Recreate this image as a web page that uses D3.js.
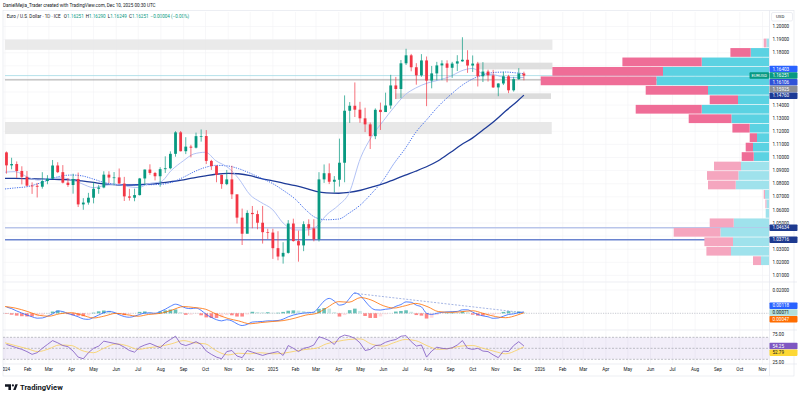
<!DOCTYPE html>
<html>
<head>
<meta charset="utf-8">
<script src="https://cdn.jsdelivr.net/npm/d3@7"></script>
<style>
  html, body { margin: 0; padding: 0; background: #fff; }
  svg { display: block; font-family: Roboto, "Liberation Sans", sans-serif; }
</style>
</head>
<body>
<script>
'use strict';

// ---- weekly candles (EUR/USD, 1D chart read back as weekly bars) ----
const candleStart = new Date(2024, 0, 3);
const firstOpen = 1.1039;
const wkHigh = [1.1046,1.0998,1.0970,1.0933,1.0897,1.0810,1.0806,1.0888,1.0865,1.0981,
  1.0964,1.0942,1.0843,1.0876,1.0885,1.0690,1.0730,1.0812,1.0791,1.0895,
  1.0895,1.0889,1.0916,1.0852,1.0761,1.0762,1.0844,1.0908,1.0948,1.0890,
  1.0926,1.1009,1.1047,1.1201,1.1202,1.1155,1.1097,1.1190,1.1214,1.1209,
  1.0982,1.0942,1.0869,1.0905,1.0937,1.0716,1.0610,1.0597,1.0630,1.0595,
  1.0630,1.0456,1.0456,1.0437,1.0353,1.0522,1.0533,1.0442,1.0513,1.0528,
  1.0529,1.0888,1.0947,1.0955,1.0858,1.1144,1.1474,1.1423,1.1573,1.1425,
  1.1380,1.1267,1.1375,1.1419,1.1495,1.1631,1.1615,1.1744,1.1830,1.1791,
  1.1720,1.1789,1.1771,1.1699,1.1730,1.1742,1.1742,1.1730,1.1781,1.1918,
  1.1819,1.1779,1.1730,1.1728,1.1670,1.1669,1.1567,1.1655,1.1631,1.1616,
  1.1682,1.1655];
const wkLow = [1.0877,1.0910,1.0844,1.0795,1.0780,1.0722,1.0695,1.0762,1.0796,1.0835,
  1.0881,1.0802,1.0776,1.0724,1.0622,1.0601,1.0640,1.0650,1.0723,1.0765,
  1.0805,1.0788,1.0800,1.0668,1.0671,1.0666,1.0710,1.0791,1.0868,1.0825,
  1.0777,1.0882,1.0910,1.1006,1.1046,1.1026,1.1001,1.1069,1.1121,1.0950,
  1.0905,1.0811,1.0761,1.0789,1.0683,1.0496,1.0332,1.0425,1.0460,1.0452,
  1.0343,1.0378,1.0226,1.0215,1.0190,1.0266,1.0358,1.0205,1.0285,1.0403,
  1.0360,1.0359,1.0806,1.0797,1.0733,1.0778,1.0811,1.1264,1.1309,1.1265,
  1.1194,1.1065,1.1140,1.1210,1.1357,1.1372,1.1446,1.1453,1.1706,1.1658,
  1.1556,1.1616,1.1392,1.1528,1.1589,1.1590,1.1574,1.1608,1.1660,1.1731,
  1.1646,1.1653,1.1542,1.1576,1.1580,1.1531,1.1468,1.1553,1.1491,1.1503,
  1.1592,1.1589];
const wkClose = [1.0940,1.0950,1.0897,1.0852,1.0785,1.0784,1.0777,1.0820,1.0838,1.0939,
  1.0888,1.0808,1.0790,1.0836,1.0642,1.0656,1.0693,1.0761,1.0771,1.0869,
  1.0847,1.0848,1.0801,1.0703,1.0693,1.0713,1.0840,1.0908,1.0882,1.0857,
  1.0911,1.0918,1.1028,1.1192,1.1048,1.1083,1.1075,1.1163,1.1164,1.0974,
  1.0935,1.0867,1.0797,1.0833,1.0719,1.0541,1.0418,1.0577,1.0568,1.0502,
  1.0430,1.0427,1.0308,1.0244,1.0272,1.0496,1.0362,1.0329,1.0491,1.0459,
  1.0375,1.0833,1.0880,1.0815,1.0830,1.0960,1.1357,1.1395,1.1365,1.1299,
  1.1253,1.1163,1.1364,1.1347,1.1397,1.1550,1.1523,1.1719,1.1780,1.1689,
  1.1627,1.1741,1.1587,1.1642,1.1703,1.1718,1.1685,1.1717,1.1734,1.1746,
  1.1702,1.1717,1.1620,1.1656,1.1627,1.1535,1.1565,1.1620,1.1513,1.1598,
  1.1641,1.16251];

// ---- moving averages, read every half month ----
const ma20 = [1.0888,1.0892,1.0850,1.0828,1.0840,1.0845,1.0830,1.0800,1.0770,1.0785,1.0795,1.0780,
  1.0770,1.0800,1.0815,1.0900,1.0976,1.1027,1.1040,1.0976,1.0922,1.0841,1.0714,1.0660,
  1.0600,1.0500,1.0447,1.0447,1.0470,1.0560,1.0637,1.0727,1.1000,1.1150,1.1280,1.1380,
  1.1480,1.1530,1.1570,1.1590,1.1620,1.1660,1.1680,1.1640,1.1630,1.1610,1.1610,1.16106];
const ma100 = [1.0760,1.0768,1.0778,1.0800,1.0830,1.0855,1.0866,1.0860,1.0835,1.0810,1.0795,1.0790,
  1.0790,1.0792,1.0795,1.0810,1.0850,1.0890,1.0925,1.0940,1.0935,1.0915,1.0880,1.0845,
  1.0800,1.0750,1.0680,1.0600,1.0540,1.0525,1.0530,1.0575,1.0640,1.0720,1.0830,1.0950,
  1.1070,1.1190,1.1300,1.1390,1.1480,1.1545,1.1600,1.1630,1.1650,1.1652,1.1645,1.16403];
const ma200 = [1.0840,1.0840,1.0838,1.0836,1.0834,1.0832,1.0830,1.0822,1.0810,1.0798,1.0792,1.0790,
  1.0792,1.0796,1.0806,1.0816,1.0830,1.0845,1.0860,1.0872,1.0879,1.0876,1.0862,1.0840,
  1.0822,1.0805,1.0785,1.0765,1.0742,1.0730,1.0727,1.0733,1.0750,1.0772,1.0800,1.0830,
  1.0865,1.0895,1.0935,1.0975,1.1040,1.1095,1.1150,1.1210,1.1285,1.1355,1.1430,1.14760];

// ---- drawn levels ----
const zoneTop = [1.1900, 1.1724, 1.1490, 1.1271];
const zoneBottom = [1.1822, 1.1673, 1.1447, 1.1179];
const zoneStart = ['2024-01-01', '2025-10-07', '2025-06-17', '2024-01-01'];
const zoneEnd = ['2026-01-18', '2026-01-18', '2026-01-16', '2026-01-17'];
const zoneFill = ['#e6e6e6', '#d9d9d9', '#d6d6d6', '#e4e4e4'];
const levelValues = [1.16251, 1.15925, 1.04634, 1.03716];

// ---- volume profile (24 rows) ----
const vpEdges = [1.19099,1.18376,1.17654,1.16931,1.16209,1.15486,1.14764,1.14041,1.13319,1.12596,
  1.11874,1.11151,1.10429,1.09706,1.08984,1.08261,1.07539,1.06816,1.06094,1.05371,
  1.04649,1.03926,1.03204,1.02481,1.01758];
const vpUp = [2.6,18.3,67.3,106,112.6,61,31,67.3,37.6,19.3,12,16,15.3,28,30.6,33.3,4,2.6,3.3,35.3,48.6,36,38,8];
const vpDown = [2.7,20.3,79.3,110.6,115.7,62.3,28.3,66,42.7,17.3,7.3,7.3,12,27,31.4,27.7,1.3,1,0,24,46.7,28.6,24.6,8];
const vpValueArea = [0,1,1,1,1,1,1,1,1,1,1,1,1,0,0,0,0,0,0,0,0,0,0,0];

// ---- MACD (weekly) ----
const macdLine = [0.0054,0.0040,0.0020,0.0002,-0.0015,-0.0030,-0.0042,-0.0040,-0.0025,-0.0005,
  0.0020,0.0015,-0.0002,-0.0015,-0.0030,-0.0048,-0.0052,-0.0035,-0.0015,0.0005,
  0.0016,0.0008,-0.0012,-0.0028,-0.0034,-0.0025,-0.0010,0.0002,0.0003,0.0000,
  0.0015,0.0035,0.0060,0.0078,0.0065,0.0045,0.0040,0.0045,0.0025,-0.0010,
  -0.0035,-0.0055,-0.0065,-0.0055,-0.0065,-0.0090,-0.0105,-0.0095,-0.0075,-0.0072,
  -0.0070,-0.0065,-0.0065,-0.0062,-0.0050,-0.0030,-0.0015,-0.0005,0.0002,0.0005,
  0.0010,0.0055,0.0105,0.0128,0.0105,0.0070,0.0080,0.0130,0.0175,0.0155,
  0.0105,0.0055,0.0030,0.0028,0.0035,0.0040,0.0060,0.0075,0.0098,0.0095,
  0.0070,0.0055,0.0000,-0.0010,0.0000,0.0008,0.0012,0.0014,0.0016,0.0030,
  0.0030,0.0010,-0.0010,-0.0022,-0.0030,-0.0043,-0.0040,-0.0025,-0.0010,-0.0005,
  0.0006,0.00118];
const macdHist = [-0.0004,-0.0012,-0.0020,-0.0025,-0.0027,-0.0027,-0.0026,-0.0018,0.0001,0.0015,
  0.0024,0.0013,-0.0007,-0.0017,-0.0020,-0.0025,-0.0019,0.0005,0.0017,0.0024,
  0.0022,0.0008,-0.0007,-0.0016,-0.0012,0.0000,0.0012,0.0016,0.0011,0.0003,
  0.0015,0.0025,0.0032,0.0033,0.0010,-0.0013,-0.0012,-0.0003,-0.0017,-0.0035,
  -0.0040,-0.0040,-0.0034,-0.0015,-0.0017,-0.0028,-0.0028,-0.0010,0.0013,0.0011,
  0.0009,0.0009,0.0005,0.0005,0.0012,0.0022,0.0025,0.0023,0.0019,0.0014,
  0.0012,0.0038,0.0045,0.0040,0.0010,-0.0028,-0.0015,0.0027,0.0040,0.0020,
  -0.0023,-0.0040,-0.0040,-0.0027,-0.0008,0.0000,0.0015,0.0020,0.0026,0.0013,
  -0.0015,-0.0020,-0.0045,-0.0038,-0.0015,-0.0002,0.0004,0.0006,0.0005,0.0014,
  0.0009,-0.0012,-0.0020,-0.0020,-0.0018,-0.0017,-0.0006,0.0012,0.0019,0.0015,
  0.0016,0.00071];
const macdSignal = [0.0058,0.0045,0.0015,-0.0015,-0.0025,-0.0005,0.0005,-0.0015,-0.0040,-0.0025,0.0000,-0.0012,
  -0.0025,-0.0010,0.0000,0.0025,0.0058,0.0050,0.0035,-0.0005,-0.0045,-0.0065,-0.0090,-0.0080,
  -0.0070,-0.0063,-0.0040,-0.0015,-0.0002,0.0045,0.0100,0.0095,0.0135,0.0115,0.0065,0.0045,
  0.0065,0.0085,0.0055,0.0015,0.0008,0.0013,0.0022,0.0000,-0.0028,-0.0038,-0.0015,0.00047];
const macdTrend = [['2025-04-22', 0.0172], ['2025-12-10', 0.0005]];

// ---- RSI (weekly) and its average (half month) ----
const rsiLine = [57,54,51,48,44,39,42,50,57,64,
  60,55,53,45,34,31,42,50,54,63,
  61,59,57,52,46,43,52,56,59,55,
  51,60,66,72,58,55,58,62,57,45,
  39,34,31,44,46,36,33,46,43,40,
  37,40,42,44,37,55,50,44,50,52,
  56,71,68,64,57,70,74,72,68,60,
  46,48,55,56,61,64,66,72,73,62,
  54,56,34,45,52,50,49,51,56,64,
  50,48,50,45,44,38,33,45,44,55,
  62,54.25];
const rsiAvg = [60,55,49,44,49,56,55,46,42,50,58,55,48,51,54,58,64,60,58,46,38,41,40,42,
  40,41,45,48,50,58,63,66,67,58,54,60,66,64,54,48,50,54,55,50,44,40,47,52.79];

// ---- axis ticks ----
const priceTicks = [1.20,1.19,1.18,1.17,1.16,1.15,1.14,1.13,1.12,1.11,1.10,1.09,1.08,1.07,1.06,1.05,1.04,1.03,1.02,1.01];
const macdTicks = [0.02];
const rsiTicks = [75, 25];

// ---------------------------------------------------------------
const W = 800, H = 399;
const plotL = 3, plotR = 769;
const mainTop = 12, mainBot = 282, macdTop = 282, macdBot = 330, rsiTop = 330, rsiBot = 364;

const svg = d3.select('body').append('svg').attr('width', W).attr('height', H);
const defs = svg.append('defs');
function clip(id, x, y, w, h) {
  defs.append('clipPath').attr('id', id).append('rect').attr('x', x).attr('y', y).attr('width', w).attr('height', h);
}
clip('cMain', plotL, mainTop, plotR - plotL, mainBot - mainTop);
clip('cMacd', plotL, macdTop, plotR - plotL, macdBot - macdTop);
clip('cRsi', plotL, rsiTop, plotR - plotL, rsiBot - rsiTop);
clip('cAxis', plotL, rsiBot, plotR - plotL, 14);

const x = d3.scaleTime().domain([new Date(2024, 0, 1), new Date(2026, 0, 1)]).range([5, 540]);
const y = d3.scaleLinear().domain([1.01, 1.20]).range([275.4, 26.5]);
const yM = d3.scaleLinear().domain([0, 0.02]).range([313.3, 290]);
const yR = d3.scaleLinear().domain([30, 70]).range([359.3, 337.3]);
const vpW = d3.scaleLinear().domain([0, 100]).range([0, 100]);

const parse = d3.timeParse('%Y-%m-%d');
const candles = wkClose.map((c, i) => ({
  date: d3.timeDay.offset(candleStart, 7 * i),
  open: i === 0 ? firstOpen : wkClose[i - 1],
  high: wkHigh[i], low: wkLow[i], close: c
}));
const halfMonths = [];
d3.timeMonth.range(new Date(2024, 0, 1), new Date(2025, 11, 2)).forEach(m => {
  halfMonths.push(m, d3.timeDay.offset(m, 14));
});
halfMonths.pop();
halfMonths.push(new Date(2025, 11, 10));

const monthTicks = d3.timeMonth.range(new Date(2024, 0, 1), new Date(2026, 10, 2));
const fmtMonth = d => d.getMonth() === 0 ? d3.timeFormat('%Y')(d) : d3.timeFormat('%b')(d);

// header
svg.append('text').attr('x', 3).attr('y', 7.3).attr('font-size', 4.6).attr('fill', '#131722')
  .text('DanielMejia_Trader created with TradingView.com, Dec 10, 2025 00:30 UTC');
const hdr = svg.append('text').attr('x', 6.7).attr('y', 17.7).attr('font-size', 4.6).attr('fill', '#131722');
hdr.append('tspan').text('Euro / U.S. Dollar · 1D · ICE ');
[['O', '1.16251'], ['H', '1.16290'], ['L', '1.16249'], ['C', '1.16251']].forEach(p => {
  hdr.append('tspan').attr('dx', 2).text(p[0]);
  hdr.append('tspan').attr('fill', '#089981').text(p[1]);
});
hdr.append('tspan').attr('dx', 2).attr('fill', '#089981').text('−0.00004 (−0.00%)');

// frame & pane separators
const frame = svg.append('g').attr('stroke', '#e0e3eb').attr('stroke-width', 0.6).attr('fill', 'none');
frame.append('rect').attr('x', plotL).attr('y', mainTop - 1.5).attr('width', 794 - plotL).attr('height', 376 - mainTop + 1.5);
[mainBot, macdBot, rsiBot].forEach(v => frame.append('line').attr('x1', plotL).attr('x2', 797).attr('y1', v).attr('y2', v));
frame.append('line').attr('x1', plotR + 0.5).attr('x2', plotR + 0.5).attr('y1', mainTop - 1.5).attr('y2', 376);

// grid
const grid = svg.append('g').attr('stroke', '#f1f2f5').attr('stroke-width', 0.6);
monthTicks.forEach(d => grid.append('line').attr('x1', x(d)).attr('x2', x(d)).attr('y1', mainTop).attr('y2', rsiBot));
priceTicks.forEach(p => grid.append('line').attr('x1', plotL).attr('x2', plotR).attr('y1', y(p)).attr('y2', y(p)));
macdTicks.forEach(p => grid.append('line').attr('x1', plotL).attr('x2', plotR).attr('y1', yM(p)).attr('y2', yM(p)));

// ---------- main pane ----------
const main = svg.append('g').attr('clip-path', 'url(#cMain)');

zoneTop.forEach((t, i) => {
  main.append('rect')
    .attr('x', x(parse(zoneStart[i]))).attr('width', x(parse(zoneEnd[i])) - x(parse(zoneStart[i])))
    .attr('y', y(t)).attr('height', y(zoneBottom[i]) - y(t))
    .attr('fill', zoneFill[i]).attr('opacity', 0.85);
});

const levelStyle = [
  { c: '#9fd8e3', w: 0.8 }, { c: '#9e9e9e', w: 0.9 }, { c: '#b9c5ea', w: 1.6 }, { c: '#6a83cf', w: 1.4 }
];
levelValues.forEach((v, i) => {
  main.append('line').attr('x1', x(new Date(2024, 0, 1))).attr('x2', plotR)
    .attr('y1', y(v)).attr('y2', y(v))
    .attr('stroke', levelStyle[i].c).attr('stroke-width', levelStyle[i].w);
});

const maLine = arr => d3.line().x((d, i) => x(halfMonths[i])).y(d => y(d)).curve(d3.curveMonotoneX)(arr);
main.append('path').attr('d', maLine(ma200)).attr('fill', 'none').attr('stroke', '#1e3b98').attr('stroke-width', 1.3);
main.append('path').attr('d', maLine(ma100)).attr('fill', 'none').attr('stroke', '#2f5fe8')
  .attr('stroke-width', 0.9).attr('stroke-dasharray', '1.2,1.2');
main.append('path').attr('d', maLine(ma20)).attr('fill', 'none').attr('stroke', '#a9bbf3').attr('stroke-width', 0.9);

// candles
const up = '#089981', down = '#f23645';
const cg = main.append('g');
cg.selectAll('line.wick').data(candles).enter().append('line')
  .attr('x1', d => x(d.date)).attr('x2', d => x(d.date))
  .attr('y1', d => y(d.high)).attr('y2', d => y(d.low))
  .attr('stroke', d => d.close >= d.open ? up : down).attr('stroke-width', 0.7);
cg.selectAll('rect.body').data(candles).enter().append('rect')
  .attr('x', d => x(d.date) - 1.4).attr('width', 2.8)
  .attr('y', d => y(Math.max(d.open, d.close)))
  .attr('height', d => Math.max(0.7, Math.abs(y(d.open) - y(d.close))))
  .attr('fill', d => d.close >= d.open ? up : down);

// volume profile
const vp = main.append('g');
vpUp.forEach((u, i) => {
  const top = y(vpEdges[i]) + 0.3, h = y(vpEdges[i + 1]) - y(vpEdges[i]) - 0.7;
  const va = vpValueArea[i] === 1;
  vp.append('rect').attr('x', plotR - vpW(u)).attr('width', vpW(u)).attr('y', top).attr('height', h)
    .attr('fill', va ? '#5bd2e2' : '#9fe2ec');
  vp.append('rect').attr('x', plotR - vpW(u) - vpW(vpDown[i])).attr('width', vpW(vpDown[i])).attr('y', top).attr('height', h)
    .attr('fill', va ? '#ef6d97' : '#f5a6bf');
});

// ---------- MACD pane ----------
const mp = svg.append('g').attr('clip-path', 'url(#cMacd)');
mp.append('line').attr('x1', plotL).attr('x2', plotR).attr('y1', yM(0)).attr('y2', yM(0))
  .attr('stroke', '#b2b5be').attr('stroke-width', 0.7).attr('stroke-dasharray', '1.2,1.2');
mp.selectAll('rect').data(macdHist).enter().append('rect')
  .attr('x', (d, i) => x(candles[i].date) - 1.8).attr('width', 3.6)
  .attr('y', d => Math.min(yM(d), yM(0))).attr('height', d => Math.abs(yM(d) - yM(0)))
  .attr('fill', (d, i) => {
    const prev = i > 0 ? macdHist[i - 1] : d;
    if (d >= 0) return d >= prev ? '#26a69a' : '#b2dfdb';
    return d <= prev ? '#ff5252' : '#ffcdd2';
  })
  .attr('opacity', 0.7);
mp.append('path')
  .attr('d', d3.line().x(d => x(parse(d[0]))).y(d => yM(d[1]))(macdTrend))
  .attr('fill', 'none').attr('stroke', '#8ea2dc').attr('stroke-width', 0.8).attr('stroke-dasharray', '2,1.5');
mp.append('path')
  .attr('d', d3.line().x((d, i) => x(candles[i].date)).y(d => yM(d)).curve(d3.curveMonotoneX)(macdLine))
  .attr('fill', 'none').attr('stroke', '#2962ff').attr('stroke-width', 0.8);
mp.append('path')
  .attr('d', d3.line().x((d, i) => x(halfMonths[i])).y(d => yM(d)).curve(d3.curveMonotoneX)(macdSignal))
  .attr('fill', 'none').attr('stroke', '#ff6d00').attr('stroke-width', 0.8);

// ---------- RSI pane ----------
const rp = svg.append('g').attr('clip-path', 'url(#cRsi)');
rp.append('rect').attr('x', plotL).attr('width', plotR - plotL).attr('y', yR(70)).attr('height', yR(30) - yR(70))
  .attr('fill', '#7e57c2').attr('opacity', 0.1);
[70, 50, 30].forEach(v => rp.append('line').attr('x1', plotL).attr('x2', plotR).attr('y1', yR(v)).attr('y2', yR(v))
  .attr('stroke', '#9598a1').attr('stroke-width', 0.6).attr('stroke-dasharray', '2,1.5'));
rp.append('path')
  .attr('d', d3.line().x((d, i) => x(halfMonths[i])).y(d => yR(d)).curve(d3.curveMonotoneX)(rsiAvg))
  .attr('fill', 'none').attr('stroke', '#f9cf5a').attr('stroke-width', 0.8);
rp.append('path')
  .attr('d', d3.line().x((d, i) => x(candles[i].date)).y(d => yR(d))(rsiLine))
  .attr('fill', 'none').attr('stroke', '#7e57c2').attr('stroke-width', 0.8);

// ---------- x axis ----------
svg.append('g').attr('clip-path', 'url(#cAxis)').selectAll('text').data(monthTicks).enter().append('text')
  .attr('x', d => x(d)).attr('y', 371).attr('text-anchor', 'middle')
  .attr('font-size', 4.6).attr('fill', '#131722').text(fmtMonth);

// ---------- right axis: value tags first, then the tick labels they leave free ----------
function stack(items, anchor, h) {
  items.forEach(d => { d.ly = d.y; });
  for (let i = anchor - 1; i >= 0; i--) items[i].ly = Math.min(items[i].y, items[i + 1].ly - h);
  for (let i = anchor + 1; i < items.length; i++) items[i].ly = Math.max(items[i].y, items[i - 1].ly + h);
  return items;
}

const lastC = wkClose[wkClose.length - 1];
const priceTags = stack([
  { v: ma100[ma100.length - 1], bg: '#2962ff' },
  { v: lastC, bg: '#089981' },
  { v: ma20[ma20.length - 1], bg: '#2f52d8' },
  { v: levelValues[1], bg: '#8b8e97' },
  { v: ma200[ma200.length - 1], bg: '#1c3a96' }
].map(d => Object.assign(d, { y: y(d.v) })), 1, 6.7);
const levelTags = [levelValues[2], levelValues[3]].map(v => ({ v: v, y: y(v), ly: y(v), bg: '#1d3a8f' }));
const macdTags = stack([
  { v: macdLine[macdLine.length - 1], bg: '#2962ff' },
  { v: macdHist[macdHist.length - 1], bg: '#b2dfdb', fg: '#131722' },
  { v: macdSignal[macdSignal.length - 1], bg: '#ff6d00' }
].map(d => Object.assign(d, { y: yM(d.v) })), 1, 6.7);
const rsiTags = stack([
  { v: rsiLine[rsiLine.length - 1], bg: '#7e57c2' },
  { v: rsiAvg[rsiAvg.length - 1], bg: '#fdd835', fg: '#131722' }
].map(d => Object.assign(d, { y: yR(d.v) })), 0, 6.7);
const allTags = priceTags.concat(levelTags, macdTags, rsiTags);
const free = yy => allTags.every(t => Math.abs(t.ly - yy) > 4.7);

const ax = svg.append('g').attr('font-size', 4.6).attr('fill', '#131722');
priceTicks.filter(p => free(y(p))).forEach(p =>
  ax.append('text').attr('x', 772.5).attr('y', y(p) + 1.6).text(d3.format('.5f')(p)));
macdTicks.filter(p => free(yM(p))).forEach(p =>
  ax.append('text').attr('x', 772.5).attr('y', yM(p) + 1.6).text(d3.format('.5f')(p)));
rsiTicks.filter(p => free(yR(p))).forEach(p =>
  ax.append('text').attr('x', 772.5).attr('y', yR(p) + 1.6).text(d3.format('.2f')(p)));

function drawTags(items, digits) {
  items.forEach(d => {
    svg.append('rect').attr('x', plotR + 0.5).attr('y', d.ly - 3.25).attr('width', 28).attr('height', 6.5)
      .attr('rx', 0.8).attr('fill', d.bg);
    svg.append('text').attr('x', 772.5).attr('y', d.ly + 1.6).attr('font-size', 4.6)
      .attr('fill', d.fg || '#fff').text(d3.format(digits)(d.v));
  });
}
drawTags(priceTags, '.5f');
drawTags(levelTags, '.5f');
drawTags(macdTags, '.5f');
drawTags(rsiTags, '.2f');

svg.append('rect').attr('x', 771.5).attr('y', 12.5).attr('width', 21).attr('height', 8.5).attr('rx', 1.5)
  .attr('fill', '#fff').attr('stroke', '#e0e3eb').attr('stroke-width', 0.6);
svg.append('text').attr('x', 776).attr('y', 18.4).attr('font-size', 4.4).attr('fill', '#131722').text('USD');

// symbol tag beside last price
svg.append('rect').attr('x', 749.5).attr('y', priceTags[1].ly - 3.25).attr('width', 19.5).attr('height', 6.5)
  .attr('rx', 0.8).attr('fill', '#089981');
svg.append('text').attr('x', 759.2).attr('y', priceTags[1].ly + 1.5).attr('text-anchor', 'middle')
  .attr('font-size', 4.2).attr('fill', '#fff').text('EURUSD');

// ---------- TradingView logo ----------
const logo = svg.append('g').attr('fill', '#131722');
logo.append('path').attr('d', 'M5,384.3 h6 v5.8 h-2.6 v-3.3 h-3.4 z');
logo.append('circle').attr('cx', 12.9).attr('cy', 385.4).attr('r', 1.1);
logo.append('path').attr('d', 'M13.2,390.1 l2.2,-5.8 h2.4 l-2.2,5.8 z');
svg.append('text').attr('x', 20).attr('y', 390.2).attr('font-size', 7.6).attr('font-weight', 700)
  .attr('fill', '#131722').text('TradingView');
</script>
</body>
</html>
